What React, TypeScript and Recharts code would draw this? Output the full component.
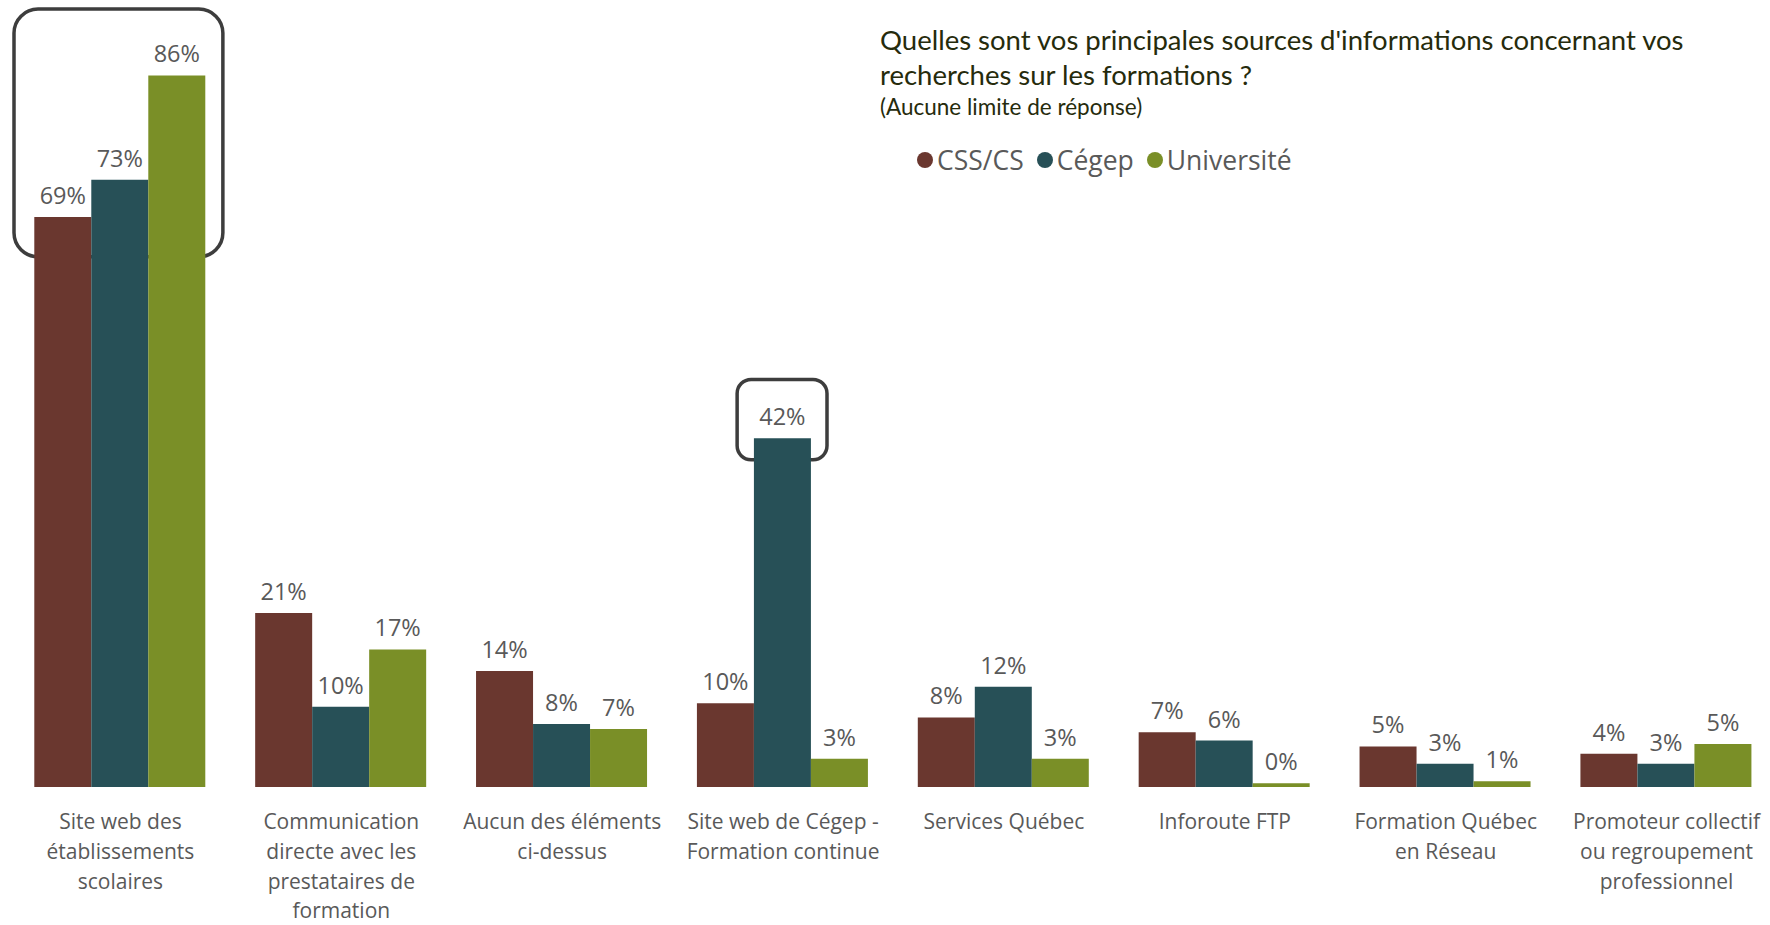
import React from "react";
import { BarChart, Bar, XAxis, YAxis, LabelList, ReferenceArea } from "recharts";

const categories = [
  "Site web des établissements scolaires",
  "Communication directe avec les prestataires de formation",
  "Aucun des éléments ci-dessus",
  "Site web de Cégep - Formation continue",
  "Services Québec",
  "Inforoute FTP",
  "Formation Québec en Réseau",
  "Promoteur collectif ou regroupement professionnel",
];

const categoryLines = [
  ["Site web des", "établissements", "scolaires"],
  ["Communication", "directe avec les", "prestataires de", "formation"],
  ["Aucun des éléments", "ci-dessus"],
  ["Site web de Cégep -", "Formation continue"],
  ["Services Québec"],
  ["Inforoute FTP"],
  ["Formation Québec", "en Réseau"],
  ["Promoteur collectif", "ou regroupement", "professionnel"],
];

const cssValues = [68.8, 21.0, 14.0, 10.1, 8.4, 6.6, 4.9, 4.0];
const cegepValues = [73.3, 9.7, 7.6, 42.1, 12.1, 5.6, 2.8, 2.8];
const univValues = [85.9, 16.6, 7.0, 3.4, 3.4, 0.45, 0.7, 5.2];

const seriesNames = ["CSS/CS", "Cégep", "Université"];
const seriesColors = ["#6A372F", "#275057", "#7A8F27"];

const titleLines = [
  "Quelles sont vos principales sources d'informations concernant vos",
  "recherches sur les formations ?",
];
const subtitle = "(Aucune limite de réponse)";

const data = categories.map((c, i) => ({
  name: c,
  lines: categoryLines[i],
  css: cssValues[i],
  cegep: cegepValues[i],
  univ: univValues[i],
}));

const FONT = "'Open Sans', sans-serif";
const GREY = "#595959";

const CategoryTick = (props: any) => {
  const { x, y, index } = props;
  const lines = categoryLines[index] || [];
  return (
    <text
      x={x}
      y={y + 42}
      textAnchor="middle"
      fill={GREY}
      fontSize={21}
      fontFamily={FONT}
    >
      {lines.map((l, i) => (
        <tspan key={i} x={x} dy={i === 0 ? 0 : 29.8}>
          {l}
        </tspan>
      ))}
    </text>
  );
};

const roundedShape = (insetL: number, insetR: number, r: number) => (p: any) =>
  (
    <rect
      x={p.x + insetL}
      y={p.y}
      width={p.width - insetL - insetR}
      height={p.height}
      rx={r}
      ry={r}
      fill="none"
      stroke="#3d3d3d"
      strokeWidth={3.5}
    />
  );

const fmt = (v: any) => `${Math.round(Number(v))}%`;

export default function App() {
  const keys = ["css", "cegep", "univ"];
  return (
    <div
      style={{
        position: "absolute",
        left: 0,
        top: 0,
        width: 1770,
        height: 925,
        overflow: "hidden",
        background: "#fff",
      }}
    >
      <BarChart
        width={1780}
        height={925}
        data={data}
        margin={{ top: 0, right: 3, bottom: 0, left: 10 }}
        barCategoryGap="11%"
        barGap={0}
      >
        <XAxis
          dataKey="name"
          axisLine={false}
          tickLine={false}
          tickSize={0}
          tickMargin={0}
          height={138}
          interval={0}
          tick={<CategoryTick />}
        />
        <YAxis hide domain={[0, 95]} />
        {keys.map((k, i) => (
          <Bar
            key={k}
            dataKey={k}
            name={seriesNames[i]}
            fill={seriesColors[i]}
            isAnimationActive={false}
          >
            <LabelList
              dataKey={k}
              position="top"
              offset={13}
              formatter={fmt}
              fill={GREY}
              fontSize={23.5}
              fontFamily={FONT}
            />
          </Bar>
        ))}
        <ReferenceArea
          x1={categories[0]}
          x2={categories[0]}
          y1={64.0}
          y2={93.9}
          ifOverflow="visible"
          shape={roundedShape(4, 8, 24)}
        />
        <ReferenceArea
          x1={categories[3]}
          x2={categories[3]}
          y1={39.5}
          y2={49.2}
          ifOverflow="visible"
          shape={roundedShape(64.5, 66.5, 14)}
        />
      </BarChart>

      <div
        style={{
          position: "absolute",
          left: 880,
          top: 22,
          fontFamily: "Lato, sans-serif",
          color: "#262b0c",
          fontSize: 27.5,
          lineHeight: "35px",
          whiteSpace: "nowrap",
        }}
      >
        {titleLines.map((t, i) => (
          <div key={i}>{t}</div>
        ))}
        <div style={{ fontSize: 22.5, lineHeight: "30px" }}>{subtitle}</div>
      </div>

      <div
        style={{
          position: "absolute",
          left: 917,
          top: 142,
          display: "flex",
          alignItems: "center",
          fontFamily: FONT,
          fontSize: 26.5,
          color: GREY,
          whiteSpace: "nowrap",
        }}
      >
        {seriesNames.map((n, i) => (
          <div
            key={n}
            style={{ display: "flex", alignItems: "center", marginRight: 13 }}
          >
            <span
              style={{
                display: "inline-block",
                width: 16,
                height: 16,
                borderRadius: 8,
                background: seriesColors[i],
                marginRight: 4,
              }}
            />
            <span>{n}</span>
          </div>
        ))}
      </div>
    </div>
  );
}
